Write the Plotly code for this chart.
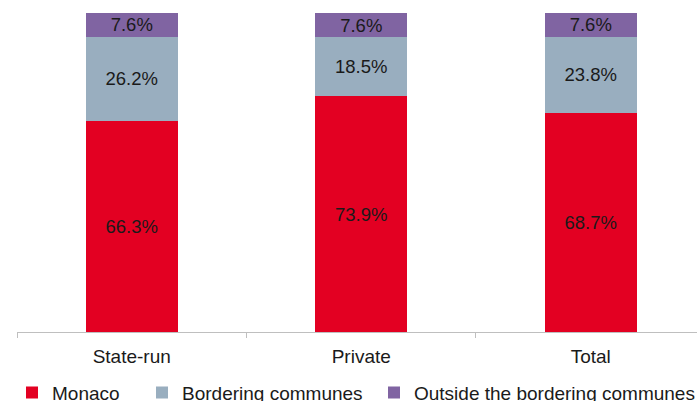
import plotly.graph_objects as go

categories = ["State-run", "Private", "Total"]
monaco = [66.3, 73.9, 68.7]
bordering = [26.2, 18.5, 23.8]
outside = [7.6, 7.6, 7.6]

series = [
    ("Monaco", monaco, "#E30022", "legend", 12),
    ("Bordering communes", bordering, "#99AEBF", "legend2", 142),
    ("Outside the bordering communes", outside, "#8064A2", "legend3", 374),
]

W, H = 697, 401
fig = go.Figure()
legends = {}
for name, vals, color, lg, lx in series:
    fig.add_trace(go.Bar(
        x=categories, y=vals, name=name,
        marker=dict(color=color, line=dict(width=0)),
        width=0.4,
        text=[f"{v:.1f}%" for v in vals],
        textposition="inside", insidetextanchor="middle",
        textfont=dict(size=18.5, color="#1a1a1a", family="Liberation Sans"),
        constraintext="none",
        legend=lg,
    ))
    legends[lg] = dict(
        orientation="h", xref="container", yref="paper",
        x=lx / W, y=-0.19, xanchor="left", yanchor="middle",
        font=dict(size=19, color="#1a1a1a"),
        itemwidth=30, bgcolor="rgba(0,0,0,0)",
    )

fig.update_layout(
    barmode="stack",
    width=W, height=H,
    margin=dict(l=17, r=0, t=13, b=69, autoexpand=False),
    paper_bgcolor="white", plot_bgcolor="white",
    font=dict(family="Liberation Sans", size=19, color="#1a1a1a"),
    xaxis=dict(
        type="category", range=[-0.5, 2.463],
        showline=True, linecolor="#BFBFBF", linewidth=1,
        ticks="outside", tickson="boundaries", ticklen=5, tickcolor="#BFBFBF",
        tickfont=dict(size=19, color="#1a1a1a"), ticklabelstandoff=7,
        showgrid=False, automargin=False,
    ),
    yaxis=dict(range=[0, 100], visible=False, showgrid=False, automargin=False),
    showlegend=True,
    **legends,
)

fig.write_html("out.html", config={"displayModeBar": False},
               post_script="document.body.style.margin='0';")
